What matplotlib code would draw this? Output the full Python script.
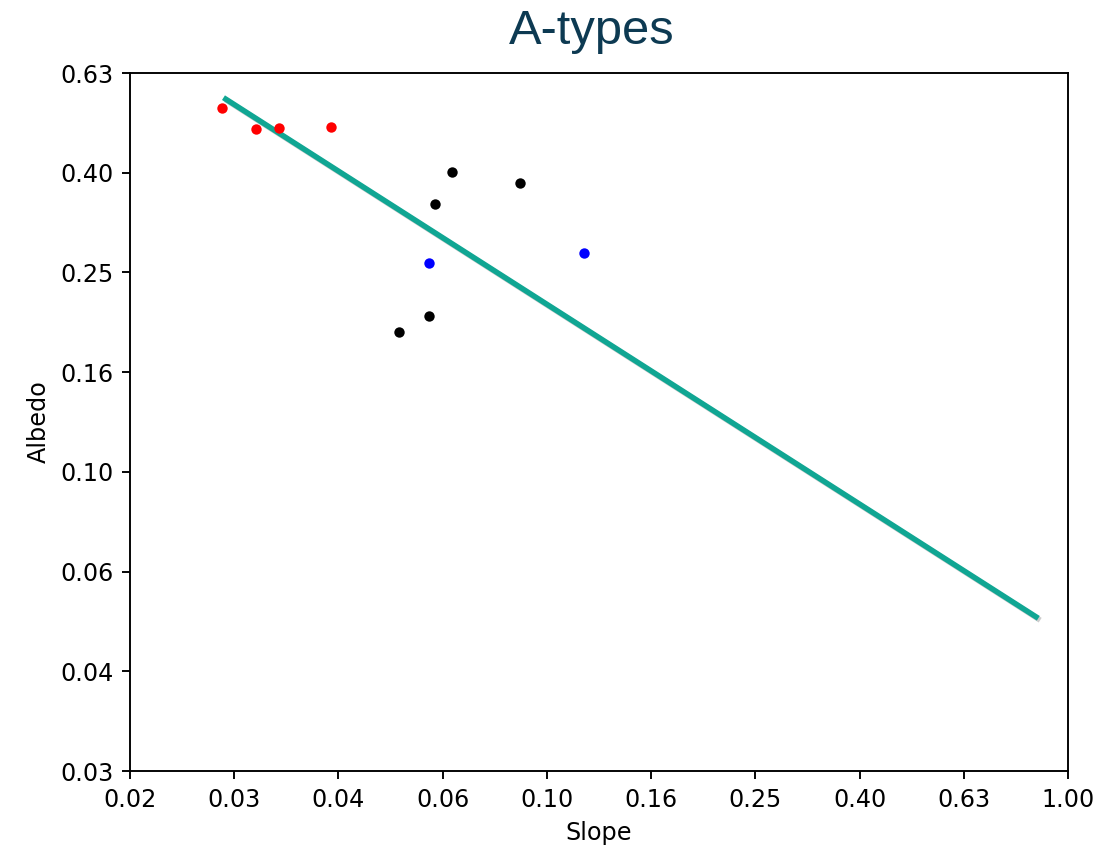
import numpy as np
import matplotlib
matplotlib.use("Agg")
import matplotlib.pyplot as plt
import matplotlib.patheffects as pe
from matplotlib.ticker import FixedLocator, FormatStrFormatter, NullLocator

# Measurements (slope vs albedo), grouped by colour class
red_slope = [0.0238, 0.0277, 0.0306, 0.0385]
red_albedo = [0.537, 0.487, 0.489, 0.491]

black_slope = [0.0658, 0.0888, 0.0610, 0.0594, 0.0520]
black_albedo = [0.399, 0.380, 0.345, 0.205, 0.191]

blue_slope = [0.0594, 0.1178]
blue_albedo = [0.262, 0.275]

# Power-law fit endpoints
fit_slope = [0.0242, 0.868]
fit_albedo = [0.559, 0.0512]

x_tick_exp = np.arange(-1.8, 0.01, 0.2)
y_tick_exp = np.arange(-1.6, -0.19, 0.2)

fig = plt.figure(figsize=(6.4, 4.968), dpi=171.72)
ax = fig.add_axes([0.1183, 0.0961, 0.8535, 0.8183])

ax.scatter(red_slope, red_albedo, s=19, color="red", linewidths=0, zorder=3)
ax.scatter(black_slope, black_albedo, s=19, color="black", linewidths=0, zorder=3)
ax.scatter(blue_slope, blue_albedo, s=19, color="blue", linewidths=0, zorder=3)

ax.plot(fit_slope, fit_albedo, color="#10a693", lw=2.3, zorder=2,
        path_effects=[pe.SimpleLineShadow(offset=(0.8, -0.8), alpha=0.2, shadow_color="black"),
                      pe.Normal()])

ax.set_xscale("log")
ax.set_yscale("log")
ax.set_xlim(10 ** -1.8, 1.0)
ax.set_ylim(10 ** -1.6, 10 ** -0.2)

ax.xaxis.set_major_locator(FixedLocator(10 ** x_tick_exp))
ax.yaxis.set_major_locator(FixedLocator(10 ** y_tick_exp))
ax.xaxis.set_minor_locator(NullLocator())
ax.yaxis.set_minor_locator(NullLocator())
ax.xaxis.set_major_formatter(FormatStrFormatter("%.2f"))
ax.yaxis.set_major_formatter(FormatStrFormatter("%.2f"))

ax.set_xlabel("Slope")
ax.set_ylabel("Albedo")

fig.text(592 / 1099, 1 - 31 / 853, "A-types", ha="center", va="center",
         fontsize=20.5, color="#0d3a52", family="Liberation Sans")

fig.savefig("out.png", dpi=171.72)
